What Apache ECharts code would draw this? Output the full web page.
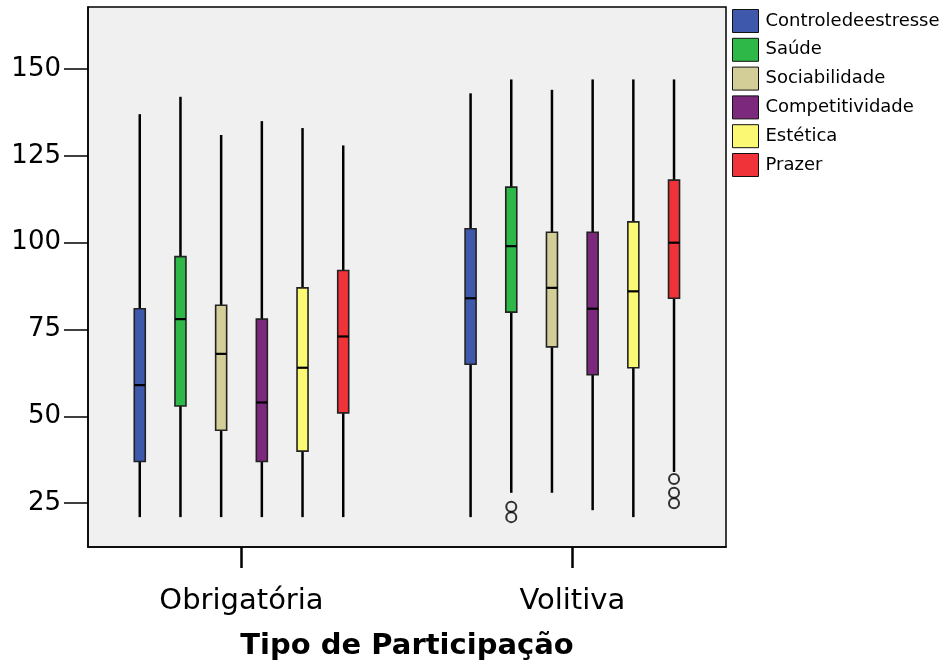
<!DOCTYPE html>
<html>
<head>
<meta charset="utf-8">
<script src="https://cdn.jsdelivr.net/npm/echarts@6/dist/echarts.min.js"></script>
<style>html,body{margin:0;padding:0;background:#fff;}#c{width:944px;height:662px;}</style>
</head>
<body>
<div id="c"></div>
<script>
const categories = ['Obrigatória', 'Volitiva'];
const seriesNames = ['Controledeestresse', 'Saúde', 'Sociabilidade', 'Competitividade', 'Estética', 'Prazer'];
const seriesColors = ['#3E58AC', '#2EB848', '#D3CE97', '#7C287D', '#FBF873', '#EF3338'];
// [min, Q1, median, Q3, max] per category
const controle = [[21, 37, 59, 81, 137], [21, 65, 84, 104, 143]];
const saude = [[21, 53, 78, 96, 142], [28, 80, 99, 116, 147]];
const sociabilidade = [[21, 46, 68, 82, 131], [28, 70, 87, 103, 144]];
const competitividade = [[21, 37, 54, 78, 135], [23, 62, 81, 103, 147]];
const estetica = [[21, 40, 64, 87, 133], [21, 64, 86, 106, 147]];
const prazer = [[21, 51, 73, 92, 128], [34, 84, 100, 118, 147]];
// outliers: [categoryIndex, value]
const saudeOutliers = [[1, 24], [1, 21]];
const prazerOutliers = [[1, 32], [1, 28], [1, 25]];
const yTicks = [25, 50, 75, 100, 125, 150];

const allBoxes = [controle, saude, sociabilidade, competitividade, estetica, prazer];
const STEP = 0.123;
const BOX_W = 11;

function offsetX(cat, s) { return cat + (s - 2.5) * STEP; }

function makeRender(s) {
  return function (params, api) {
    const cat = api.value(0);
    const x = offsetX(cat, s);
    const pMin = api.coord([x, api.value(1)]);
    const pQ1 = api.coord([x, api.value(2)]);
    const pMed = api.coord([x, api.value(3)]);
    const pQ3 = api.coord([x, api.value(4)]);
    const pMax = api.coord([x, api.value(5)]);
    const h = BOX_W / 2;
    return {
      type: 'group',
      children: [
        { type: 'line', shape: { x1: pMax[0], y1: pMax[1], x2: pQ3[0], y2: pQ3[1] }, style: { stroke: '#000', lineWidth: 2.5 } },
        { type: 'line', shape: { x1: pQ1[0], y1: pQ1[1], x2: pMin[0], y2: pMin[1] }, style: { stroke: '#000', lineWidth: 2.5 } },
        { type: 'rect', shape: { x: pQ3[0] - h, y: pQ3[1], width: BOX_W, height: pQ1[1] - pQ3[1] }, style: { fill: seriesColors[s], stroke: '#222', lineWidth: 1.6 } },
        { type: 'line', shape: { x1: pMed[0] - h, y1: pMed[1], x2: pMed[0] + h, y2: pMed[1] }, style: { stroke: '#000', lineWidth: 2.2 } }
      ]
    };
  };
}

const series = allBoxes.map((boxes, s) => ({
  type: 'custom',
  name: seriesNames[s],
  renderItem: makeRender(s),
  itemStyle: { color: seriesColors[s], borderColor: '#111', borderWidth: 1 },
  encode: { x: 0, y: [1, 2, 3, 4, 5] },
  data: boxes.map((b, cat) => [cat].concat(b))
}));

function outlierSeries(list, s) {
  return {
    type: 'scatter',
    symbol: 'circle',
    symbolSize: 10,
    itemStyle: { color: 'rgba(0,0,0,0)', borderColor: '#000', borderWidth: 2 },
    data: list.map(o => [offsetX(o[0], s), o[1]]),
    z: 5
  };
}
series.push(outlierSeries(saudeOutliers, 1));
series.push(outlierSeries(prazerOutliers, 5));

const chart = echarts.init(document.getElementById('c'), null, { renderer: 'canvas' });
chart.setOption({
  animation: false,
  backgroundColor: '#fff',
  textStyle: { fontFamily: 'DejaVu Sans' },
  grid: { left: 88, top: 7, width: 638, height: 540, show: true, backgroundColor: '#F0F0F0', borderColor: '#000', borderWidth: 1.5, containLabel: false, outerBoundsMode: 'none' },
  legend: {
    orient: 'vertical', left: 732, top: 9, padding: 0,
    itemWidth: 26, itemHeight: 23, itemGap: 4.8,
    icon: 'rect',
    textStyle: { fontFamily: 'DejaVu Sans', fontSize: 18, color: '#000', padding: [0, 0, 0, 2] },
    data: seriesNames.map((n, i) => ({ name: n, itemStyle: { color: seriesColors[i], borderColor: '#111', borderWidth: 1 } }))
  },
  xAxis: {
    type: 'value', min: -0.464, max: 1.4646,
    axisLine: { show: true, onZero: false, lineStyle: { color: '#000', width: 1.5 } },
    axisTick: { show: true, length: 21, lineStyle: { color: '#000', width: 2.5 }, customValues: [0, 1] },
    axisLabel: { customValues: [0, 1], formatter: v => categories[Math.round(v)], fontFamily: 'DejaVu Sans', fontSize: 29, color: '#000', margin: 40 },
    splitLine: { show: false },
    name: 'Tipo de Participação', nameLocation: 'middle', nameGap: 85,
    nameTextStyle: { fontFamily: 'DejaVu Sans', fontSize: 29, fontWeight: 'bold', color: '#000' }
  },
  yAxis: {
    type: 'value', min: 12.4, max: 167.85,
    axisLine: { show: true, onZero: false, lineStyle: { color: '#000', width: 1.5 } },
    axisTick: { show: true, length: 24, lineStyle: { color: '#000', width: 1.5 }, customValues: yTicks },
    axisLabel: { customValues: yTicks, fontFamily: 'DejaVu Sans', fontSize: 26, color: '#000', margin: 27 },
    splitLine: { show: false }
  },
  series: series
});
</script>
</body>
</html>
